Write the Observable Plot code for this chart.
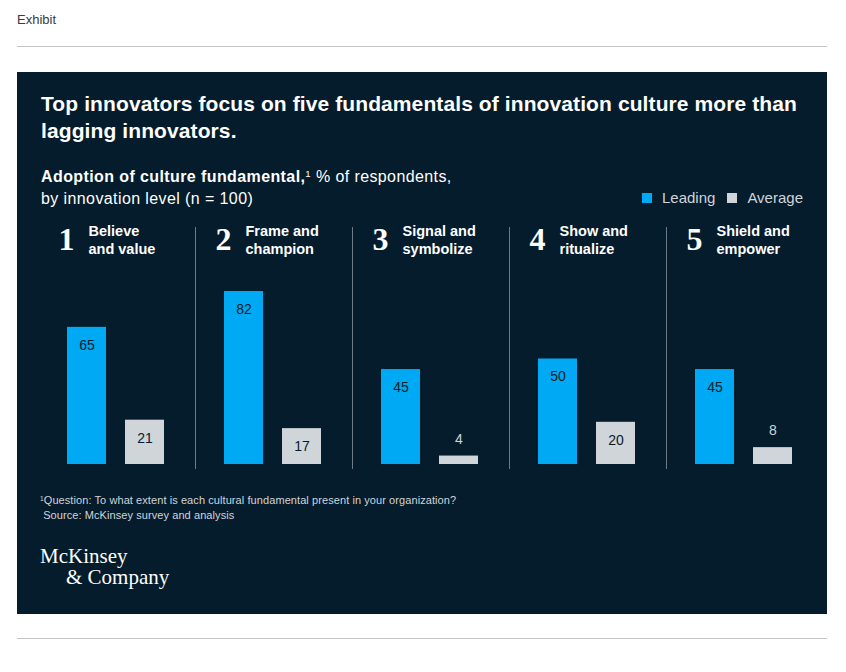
<!DOCTYPE html>
<html><head><meta charset="utf-8">
<script src="https://cdn.jsdelivr.net/npm/d3@7"></script>
<script src="https://cdn.jsdelivr.net/npm/@observablehq/plot@0.6"></script>
<style>
body{margin:0;background:#fff;font-family:"Liberation Sans",Arial,sans-serif;}
#page{position:relative;width:846px;height:672px;overflow:hidden;}
.abs{position:absolute;white-space:nowrap;}
.sup{font-size:0.6em;vertical-align:0.55em;line-height:0;}
</style></head><body>
<div id="page">
  <div class="abs" style="left:17px;top:12px;font-size:13px;color:#3a3a3a;">Exhibit</div>
  <div class="abs" style="left:17px;top:46px;width:810px;height:1px;background:#c4c4c4"></div>
  <div class="abs" style="left:17px;top:72px;width:810px;height:542px;background:#051C2C"></div>
  <div class="abs" style="left:41px;top:91px;font-size:21px;line-height:26.5px;letter-spacing:0.1px;font-weight:bold;color:#fff;">Top innovators focus on five fundamentals of innovation culture more than<br>lagging innovators.</div>
  <div class="abs" style="left:41px;top:166px;font-size:16px;line-height:22px;letter-spacing:0.4px;color:#fff;"><b>Adoption of culture fundamental,</b><span class="sup">1</span> % of respondents,<br>by innovation level (n = 100)</div>
  <div class="abs" id="legend" style="left:642px;top:187px;font-size:15px;line-height:22px;color:#D0D5DA;"></div>
  <div class="abs" id="chart" style="left:0px;top:220px;"></div>
  <div class="abs" style="left:40px;top:493px;font-size:11px;line-height:15px;letter-spacing:0.08px;color:#D0D5DA;"><span class="sup" style="vertical-align:0.45em">1</span>Question: To what extent is each cultural fundamental present in your organization?<br>&nbsp;Source: McKinsey survey and analysis</div>
  <div class="abs" style="left:40px;top:546px;font-family:'Liberation Serif',serif;font-size:21px;line-height:21px;color:#fff;">McKinsey<br><span style="padding-left:26px">&amp; Company</span></div>
  <div class="abs" style="left:17px;top:638px;width:810px;height:1px;background:#c4c4c4"></div>
</div>
<script>
const categories = ["Believe and value", "Frame and champion", "Signal and symbolize", "Show and ritualize", "Shield and empower"];
const headingNumbers = ["1", "2", "3", "4", "5"];
const headingLabels = ["Believe\nand value", "Frame and\nchampion", "Signal and\nsymbolize", "Show and\nritualize", "Shield and\nempower"];
const series = ["Leading", "Average"];
const seriesColors = ["#00A9F4", "#D0D5DA"];
const leading = [65, 82, 45, 50, 45];
const average = [21, 17, 4, 20, 8];

const rows = categories.flatMap((c, i) => [
  {category: c, series: "Leading", value: leading[i]},
  {category: c, series: "Average", value: average[i]}
]);
const headings = categories.map((c, i) => ({category: c, num: headingNumbers[i], label: headingLabels[i]}));

const ML = 38, MR = 23;
const plot = Plot.plot({
  width: 846, height: 256,
  marginLeft: ML, marginRight: MR, marginTop: 7, marginBottom: 8,
  style: {background: "transparent", color: "#fff", fontFamily: "Liberation Sans, Arial, sans-serif", overflow: "visible"},
  fx: {domain: categories, padding: 0, axis: null},
  x: {domain: series, range: [ML + 28, ML + 127], paddingInner: 0.322, paddingOuter: 0, axis: null},
  y: {domain: [0, 100], range: [244, 33], axis: null},
  color: {domain: series, range: seriesColors},
  marks: [
    Plot.frame({anchor: "left", stroke: "#6E7B86", strokeOpacity: 1}),
    Plot.barY(rows, {fx: "category", x: "series", y: "value", fill: "series"}),
    Plot.text(rows.filter(d => d.value >= 10), {fx: "category", x: "series", y: "value", text: d => String(d.value), dy: 18, fill: "#051C2C", fontSize: 14}),
    Plot.text(rows.filter(d => d.value < 10), {fx: "category", x: "series", y: "value", text: d => String(d.value), dy: -17, fill: "#D0D5DA", fontSize: 14}),
    Plot.text(headings, {fx: "category", text: "num", frameAnchor: "top-left", lineAnchor: "top", dx: 20, dy: 0, fontFamily: "Liberation Serif, serif", fontWeight: "bold", fontSize: 32, fill: "#fff"}),
    Plot.text(headings, {fx: "category", text: "label", frameAnchor: "top-left", lineAnchor: "top", dx: 50, dy: -4, fontSize: 14.5, fontWeight: "bold", lineHeight: 1.24, fill: "#fff"})
  ]
});
// no separator before the first column
const frameGroup = plot.querySelector('[aria-label="frame"]');
if (frameGroup) {
  const frames = plot.querySelectorAll('[aria-label="frame"]');
  if (frames.length > 1) frames[0].remove();
  else if (frameGroup.children.length > 1) frameGroup.children[0].remove();
}
document.getElementById("chart").appendChild(plot);

const legend = document.getElementById("legend");
legend.innerHTML = series.map((s, i) =>
  `<span style="display:inline-block;width:10px;height:10px;background:${seriesColors[i]};margin-right:10px;vertical-align:-0px"></span><span style="margin-right:12px">${s}</span>`
).join("");
</script>
</body></html>
